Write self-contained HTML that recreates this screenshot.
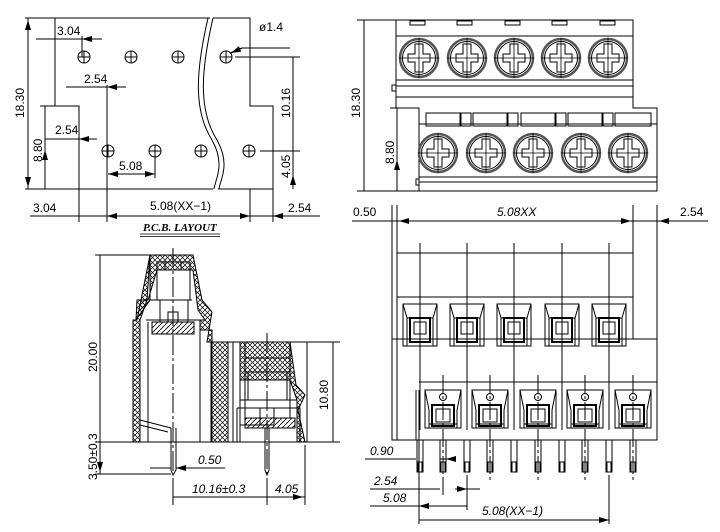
<!DOCTYPE html>
<html><head><meta charset="utf-8"><style>
html,body{margin:0;padding:0;background:#fff}
svg{display:block}
text{font-family:"Liberation Sans",sans-serif;font-size:12px;fill:#000}
.i{font-style:italic}
</style></head><body>
<svg width="720" height="532" viewBox="0 0 720 532" xmlns="http://www.w3.org/2000/svg">
<defs>
<marker id="a" viewBox="0 0 10 6" refX="10" refY="3" markerWidth="10" markerHeight="6" orient="auto-start-reverse" markerUnits="userSpaceOnUse"><path d="M0,0 L10,3 L0,6z" fill="#000"/></marker>
<pattern id="h" width="5" height="5" patternUnits="userSpaceOnUse"><path d="M0,0 L5,5 M5,0 L0,5" stroke="#000" stroke-width="0.7"/></pattern>
<pattern id="d" width="5" height="5" patternUnits="userSpaceOnUse"><path d="M0,5 L5,0" stroke="#000" stroke-width="0.8"/></pattern>
<g id="hole"><circle r="6" fill="none" stroke="#000"/><path d="M-6,0H6M0,-6V6" stroke="#000"/></g>
<g id="scr"><circle r="19" fill="none" stroke="#555" stroke-width="2.5"/><circle r="16.5" fill="none" stroke="#000"/><path d="M-20,0H20M0,-20V20" stroke="#000" stroke-width="0.8"/><path d="M-4,-14H4V-4H11V4H4V14H-4V4H-11V-4H-4z" fill="none" stroke="#000"/></g>
<g id="pk1"><rect x="-17" y="0" width="34" height="42" fill="none" stroke="#000"/><path d="M-17,0L-13,14H13L17,0M-13,14V42M13,14V42" fill="none" stroke="#000"/><rect x="-10" y="14" width="20" height="24" fill="none" stroke="#000" stroke-width="2"/><rect x="-6" y="18" width="12" height="12" fill="none" stroke="#000"/></g>
<g id="pk2"><rect x="-18" y="0" width="36" height="38" fill="none" stroke="#000"/><path d="M-18,0L-14,20V38M18,0L14,20V38M-14,34H14" fill="none" stroke="#000"/><rect x="-11" y="15" width="22" height="21" fill="none" stroke="#000" stroke-width="2"/><rect x="-7" y="19" width="14" height="13" fill="none" stroke="#000"/><circle cx="0" cy="7" r="3.5" fill="none" stroke="#000"/></g>
<g id="pin"><rect x="-3" y="0" width="6" height="32" fill="none" stroke="#000"/><path d="M-2,22V32M2,22V32M-3,22H3" stroke="#000" fill="none"/></g>
</defs>
<g stroke="#000" fill="none" stroke-width="1">
<!-- PCB layout -->
<path d="M210,18H55V106H79V189H213M218,189H273V106H250V18H213"/>
<path d="M208,18C196,70 193,110 212,140C226,165 215,180 214,189M213,18C201,70 198,110 217,140C231,165 220,180 219,189"/>
<path d="M25,18H55M25,189H79M28,18V189" />
<path d="M28,20V40M28,187V165" marker-start="url(#a)"/>
<path d="M28,40V20M28,165V187" marker-end="url(#a)"/>
<path d="M36,39H55M102,39H82" marker-end="url(#a)"/>
<path d="M82,36V57M55,39H82"/>
<path d="M66,87H84M126,87H107" marker-end="url(#a)"/>
<path d="M107,85V222M84,87H107"/>
<path d="M45,108V140M45,187V150" marker-end="url(#a)"/>
<path d="M45,106V189M40,106H55M45,139H55"/>
<path d="M48,139H55M97,139H79" marker-end="url(#a)"/>
<path d="M55,139H79"/>
<path d="M108,174H155" marker-start="url(#a)" marker-end="url(#a)"/>
<path d="M155,151V178"/>
<path d="M235,57H300M260,151H300M293,57V189"/>
<path d="M293,59V95M293,149V110M293,153V165M293,187V175" marker-end="url(#a)"/>
<path d="M30,216H320M79,189V222M250,189V222M273,189V222"/>
<path d="M62,216H79M300,216H273" marker-end="url(#a)"/>
<path d="M107,216H250" marker-start="url(#a)" marker-end="url(#a)"/>
<path d="M230,53L242,48H290"/>
<path d="M242,48L231,53" marker-end="url(#a)"/>
<path d="M140,234H220M140,236.5H220" stroke-width="0.8"/>
</g>
<g>
<use href="#hole" x="84" y="57"/><use href="#hole" x="131" y="57"/><use href="#hole" x="178" y="57"/><use href="#hole" x="226" y="57"/>
<use href="#hole" x="108" y="151"/><use href="#hole" x="155" y="151"/><use href="#hole" x="201" y="151"/><use href="#hole" x="249" y="151"/>
</g>
<text x="57" y="35">3.04</text>
<text x="84" y="83">2.54</text>
<text x="55" y="134">2.54</text>
<text x="119" y="170">5.08</text>
<text x="259" y="31">ø1.4</text>
<text transform="translate(24,118) rotate(-90)">18.30</text>
<text transform="translate(42,162) rotate(-90)">8.80</text>
<text transform="translate(290,118) rotate(-90)">10.16</text>
<text transform="translate(290,178) rotate(-90)">4.05</text>
<text x="33" y="212">3.04</text>
<text x="150" y="210">5.08(XX−1)</text>
<text x="288" y="212">2.54</text>
<text x="143" y="231" style="font-family:'Liberation Serif',serif;font-weight:bold;font-size:11px;font-style:italic">P.C.B.  LAYOUT</text>

<!-- top right -->
<g stroke="#000" fill="none">
<path d="M396,20H633V108H657V191H419V108H396z"/>
<path d="M396,36H633M396,80H633M396,86H633M396,97H633"/>
<path d="M419,124H657M419,177H657M419,182H657"/>
<rect x="410" y="21" width="15" height="4"/><rect x="457" y="21" width="15" height="4"/><rect x="505" y="21" width="15" height="4"/><rect x="552" y="21" width="15" height="4"/><rect x="600" y="21" width="15" height="4"/>
<rect x="426" y="113" width="34" height="13"/><rect x="461" y="113" width="10" height="13"/><rect x="473" y="113" width="34" height="13"/><rect x="508" y="113" width="10" height="13"/><rect x="521" y="113" width="34" height="13"/><rect x="556" y="113" width="10" height="13"/><rect x="568" y="113" width="34" height="13"/><rect x="603" y="113" width="10" height="13"/><rect x="615" y="113" width="36" height="13"/>
<path d="M392,85h4v6h-4zM416,179h3v6h-3z"/>
<path d="M357,20H396M357,191H419M364,22V98M364,189V110M397,110V140M397,189V160" marker-end="url(#a)"/>
<path d="M364,20V191M390,108H419M397,108V191"/>
</g>
<use href="#scr" x="419" y="58"/><use href="#scr" x="467" y="58"/><use href="#scr" x="514" y="58"/><use href="#scr" x="561" y="58"/><use href="#scr" x="608" y="58"/>
<use href="#scr" x="438" y="153"/><use href="#scr" x="486" y="153"/><use href="#scr" x="533" y="153"/><use href="#scr" x="581" y="153"/><use href="#scr" x="628" y="153"/>
<text transform="translate(360,118) rotate(-90)">18.30</text>
<text transform="translate(394,164) rotate(-90)">8.80</text>

<!-- side view -->
<g stroke="#000">
<path d="M150,255H193L202,300L212,312L207,342H212V330H200V320H205L198,310L193,270H157L148,300H137L136,320L150,300z" fill="url(#h)"/>
<path d="M150,255L137,320H133V442H140V320L147,300z" fill="url(#h)"/>
<rect x="211" y="342" width="17" height="100" fill="url(#h)"/>
<path d="M240,342H290L296,385L305,395L298,410L305,442H297V400L290,380H240z" fill="url(#h)"/>
<rect x="152" y="322" width="42" height="12" fill="url(#d)"/>
<rect x="245" y="418" width="50" height="10" fill="url(#d)"/>
<g fill="none">
<path d="M133,442H307M207,342H307V442M212,342V442M233,342V442M240,342V442"/>
<path d="M157,262H190M157,270H190M157,262V300M190,262V300M160,300H188V322M160,300V322M146,320H200V442M150,300H192M148,322V442"/>
<path d="M165,262V270M181,262V270M168,322V312H178V322"/>
<path d="M245,342V418M290,342V418M245,358H290M245,372H290M248,372V400M287,372V400M240,400H297M237,408H300V442M237,408V442M260,408V425H274V408"/>
<path d="M140,420L171,428M140,425L168,432M240,425H269"/>
<path d="M173,248V475" stroke-dasharray="20,3,3,3"/>
<path d="M267,333V475" stroke-dasharray="20,3,3,3"/>
<path d="M171,428V470L173,475L176,470V428M265,428V470L267,475L269,470V428"/>
<path d="M95,255H150M95,442H133M95,474H171M300,342H340M300,442H340M100,255V474"/>
<path d="M173,478V505M267,478V505M305,445V505"/>
<path d="M173,497H305"/>
</g>
<g fill="none">
<path d="M100,340V257M100,365V440M333,380V344M333,405V440M100,450V444M100,466V472" marker-end="url(#a)"/>
<path d="M333,342V442"/>
<path d="M150,468H171M225,468H176" marker-end="url(#a)"/>
<path d="M176,468H225"/>
<path d="M183,497H175M255,497H265M275,497H269M295,497H303" marker-end="url(#a)"/>
</g>
</g>
<text transform="translate(97,372) rotate(-90)">20.00</text>
<text transform="translate(328,410) rotate(-90)">10.80</text>
<text transform="translate(97,480) rotate(-90)">3.50±0.3</text>
<text class="i" x="198" y="464">0.50</text>
<text class="i" x="192" y="493">10.16±0.3</text>
<text class="i" x="275" y="493">4.05</text>

<!-- front view -->
<g stroke="#000" fill="none">
<path d="M397,253H633V297H397zM397,297H633V339H397"/>
<rect x="392" y="339" width="265" height="101"/>
<path d="M397,339V440M419,382H657M416,390V440M419,390V440"/>
<path d="M352,221H708M392,205V339M397,205V339M633,205V339M657,205V339"/>
<path d="M372,221H390M680,221H659" marker-end="url(#a)"/>
<path d="M399,221H631" marker-start="url(#a)" marker-end="url(#a)"/>
<path d="M420,243V430M467,243V430M514,243V430M562,243V430M609,243V430"/>
<path d="M443,375V480M490,375V480M538,375V480M585,375V480M633,375V480" stroke-dasharray="18,3,3,3"/>
<path d="M365,459H416M440,459H446" />
<path d="M405,459H416M453,459H446" marker-end="url(#a)"/>
<path d="M370,489H440M480,489H467"/>
<path d="M430,489H440M455,489H467" marker-end="url(#a)"/>
<path d="M419,440V524M467,475V510M609,475V524M443,480V495"/>
<path d="M419,506H467M419,520H609" marker-start="url(#a)" marker-end="url(#a)"/>
<path d="M370,506H419"/>
</g>
<use href="#pk1" x="420" y="304"/><use href="#pk1" x="467" y="304"/><use href="#pk1" x="514" y="304"/><use href="#pk1" x="562" y="304"/><use href="#pk1" x="609" y="304"/>
<use href="#pk2" x="443" y="390"/><use href="#pk2" x="490" y="390"/><use href="#pk2" x="538" y="390"/><use href="#pk2" x="585" y="390"/><use href="#pk2" x="633" y="390"/>
<use href="#pin" x="420" y="440"/><use href="#pin" x="443" y="440"/><use href="#pin" x="467" y="440"/><use href="#pin" x="490" y="440"/><use href="#pin" x="514" y="440"/><use href="#pin" x="538" y="440"/><use href="#pin" x="562" y="440"/><use href="#pin" x="585" y="440"/><use href="#pin" x="609" y="440"/><use href="#pin" x="633" y="440"/>
<text x="353" y="216">0.50</text>
<text class="i" x="497" y="216">5.08XX</text>
<text x="680" y="216">2.54</text>
<text class="i" x="370" y="455">0.90</text>
<text class="i" x="374" y="485">2.54</text>
<text class="i" x="383" y="502">5.08</text>
<text class="i" x="482" y="515">5.08(XX−1)</text>
</svg>
</body></html>
